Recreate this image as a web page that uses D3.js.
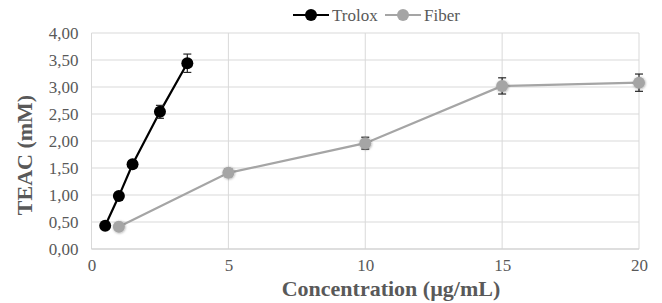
<!DOCTYPE html>
<html>
<head>
<meta charset="utf-8">
<script src="https://cdn.jsdelivr.net/npm/d3@7"></script>
<style>
  body { margin: 0; background: #fff; }
</style>
</head>
<body>
<div id="vis"></div>
<script>
// Data
const troloxConc = [0.5, 1, 1.5, 2.5, 3.5];
const troloxTeac = [0.43, 0.98, 1.57, 2.54, 3.44];
const troloxErr = [0.04, 0.05, 0.06, 0.12, 0.17];

const fiberConc = [1, 5, 10, 15, 20];
const fiberTeac = [0.41, 1.41, 1.96, 3.02, 3.08];
const fiberErr = [0.04, 0.07, 0.11, 0.15, 0.16];

const xTicks = [0, 5, 10, 15, 20];
const yTicks = [0, 0.5, 1, 1.5, 2, 2.5, 3, 3.5, 4];
const seriesNames = ["Trolox", "Fiber"];
const seriesColors = ["#000000", "#a5a5a5"];

const FONT = '"Liberation Serif", "Times New Roman", serif';
const W = 662, H = 303;
const margin = { left: 91.5, right: 23, top: 33, bottom: 54 };

const svg = d3.select("#vis").append("svg")
  .attr("width", W).attr("height", H);

const x = d3.scaleLinear().domain([0, 20]).range([margin.left, W - margin.right]);
const y = d3.scaleLinear().domain([0, 4]).range([H - margin.bottom, margin.top]);

// soft shadow for fiber markers
const defs = svg.append("defs");
const f = defs.append("filter").attr("id", "shadow")
  .attr("x", "-50%").attr("y", "-50%").attr("width", "200%").attr("height", "200%");
f.append("feDropShadow").attr("dx", 0.5).attr("dy", 0.5).attr("stdDeviation", 1.2)
  .attr("flood-color", "#000").attr("flood-opacity", 0.35);

// gridlines
const grid = svg.append("g");
grid.selectAll(".hg").data(yTicks).enter().append("line")
  .attr("x1", x(0)).attr("x2", x(20))
  .attr("y1", d => y(d)).attr("y2", d => y(d))
  .attr("stroke", "#d9d9d9").attr("stroke-width", 1);
grid.selectAll(".vg").data(xTicks).enter().append("line")
  .attr("x1", d => x(d)).attr("x2", d => x(d))
  .attr("y1", y(0)).attr("y2", y(4))
  .attr("stroke", "#d9d9d9").attr("stroke-width", 1);

// axes (labels only)
const xAxis = svg.append("g")
  .attr("transform", `translate(0,${y(0)})`)
  .call(d3.axisBottom(x).tickValues(xTicks).tickSize(0).tickPadding(10));
const yAxis = svg.append("g")
  .attr("transform", `translate(${x(0)},0)`)
  .call(d3.axisLeft(y).tickValues(yTicks).tickSize(0).tickPadding(13)
    .tickFormat(d => d3.format(".2f")(d).replace(".", ",")));
[xAxis, yAxis].forEach(a => {
  a.attr("font-family", FONT).attr("font-size", 17);
  a.select(".domain").remove();
  a.selectAll("text").attr("fill", "#595959");
});
svg.append("line")
  .attr("x1", x(0)).attr("x2", x(20)).attr("y1", y(0)).attr("y2", y(0))
  .attr("stroke", "#d0d0d0").attr("stroke-width", 1.2);

// series
function drawSeries(conc, teac, err, color, shadow) {
  const pts = conc.map((c, i) => ({ c, v: teac[i], e: err[i] }));
  const g = svg.append("g");
  g.append("path").datum(pts)
    .attr("d", d3.line().x(d => x(d.c)).y(d => y(d.v)))
    .attr("fill", "none").attr("stroke", color).attr("stroke-width", 2.2);
  const eb = g.selectAll(".eb").data(pts).enter().append("g")
    .attr("stroke", "#262626").attr("stroke-width", 1.2);
  eb.append("line").attr("x1", d => x(d.c)).attr("x2", d => x(d.c))
    .attr("y1", d => y(d.v - d.e)).attr("y2", d => y(d.v + d.e));
  eb.append("line").attr("x1", d => x(d.c) - 4).attr("x2", d => x(d.c) + 4)
    .attr("y1", d => y(d.v + d.e)).attr("y2", d => y(d.v + d.e));
  eb.append("line").attr("x1", d => x(d.c) - 4).attr("x2", d => x(d.c) + 4)
    .attr("y1", d => y(d.v - d.e)).attr("y2", d => y(d.v - d.e));
  g.selectAll("circle").data(pts).enter().append("circle")
    .attr("cx", d => x(d.c)).attr("cy", d => y(d.v)).attr("r", 6)
    .attr("fill", color)
    .attr("filter", shadow ? "url(#shadow)" : null);
}
drawSeries(fiberConc, fiberTeac, fiberErr, seriesColors[1], true);
drawSeries(troloxConc, troloxTeac, troloxErr, seriesColors[0], false);

// legend
const legendX = [293, 385];
const leg = svg.append("g").attr("font-family", FONT).attr("font-size", 17);
seriesNames.forEach((name, i) => {
  const lx = legendX[i];
  leg.append("line").attr("x1", lx).attr("x2", lx + 36).attr("y1", 15).attr("y2", 15)
    .attr("stroke", seriesColors[i]).attr("stroke-width", 2.2);
  leg.append("circle").attr("cx", lx + 18).attr("cy", 15).attr("r", 6)
    .attr("fill", seriesColors[i]);
  leg.append("text").attr("x", lx + 39).attr("y", 20.5)
    .attr("fill", "#595959").text(name);
});

// axis titles
svg.append("text")
  .attr("transform", `translate(32,${(y(0) + y(4)) / 2 + 14}) rotate(-90)`)
  .attr("text-anchor", "middle").attr("font-family", FONT)
  .attr("font-size", 22).attr("font-weight", "bold").attr("fill", "#595959")
  .text("TEAC (mM)");
svg.append("text")
  .attr("x", 391).attr("y", 296)
  .attr("text-anchor", "middle").attr("font-family", FONT)
  .attr("font-size", 22).attr("font-weight", "bold").attr("fill", "#595959")
  .text("Concentration (µg/mL)");
</script>
</body>
</html>
